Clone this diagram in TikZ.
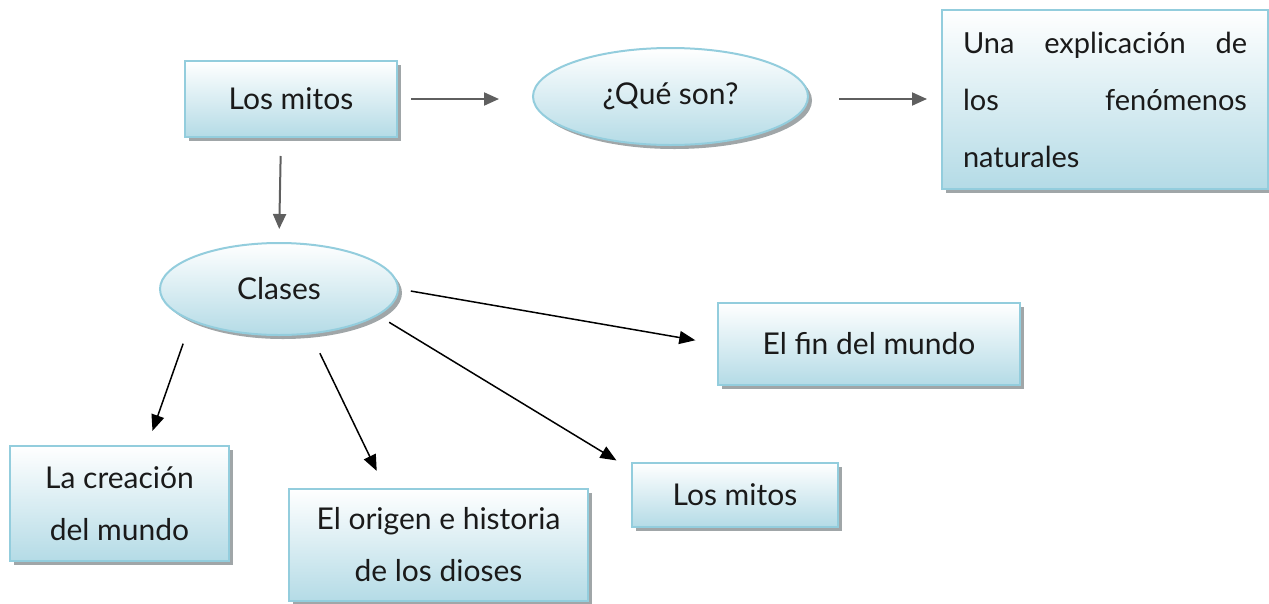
\documentclass[tikz,border=0pt]{standalone}
\usepackage{fontspec}
\setmainfont{Lato}
\usepackage{tikz}
\usetikzlibrary{arrows.meta,shadows,shapes.geometric}
\definecolor{mtink}{HTML}{1A1A1A}
\definecolor{mtborder}{HTML}{93CDDD}
\definecolor{mtfill}{HTML}{B4DBE6}
\definecolor{mtshadow}{HTML}{A0A6A8}
\definecolor{mtgray}{HTML}{5F5F5F}
\tikzset{
  mtbox/.style={
    draw=mtborder,
    line width=2pt,
    top color=white,
    bottom color=mtfill,
    drop shadow={shadow xshift=4pt, shadow yshift=-4pt, fill=mtshadow, opacity=1},
    align=center,
    inner sep=0pt,
    font=\fontsize{30}{52}\selectfont,
    text=mtink
  },
  mtoval/.style={mtbox, ellipse},
  mtgrayedge/.style={
    -{Triangle[length=15pt,width=13pt]},
    line width=2pt,
    color=mtgray
  },
  mtedge/.style={
    -{Triangle[length=16pt,width=13pt]},
    line width=1.5pt,
    color=black
  }
}
\begin{document}
\begin{tikzpicture}[x=1pt,y=-1pt]
  \useasboundingbox (0,0) rectangle (1269,603);

  \node[mtbox, minimum width=212pt, minimum height=76pt] (mitos) at (291,99) {Los mitos};
  \node[mtoval, minimum width=275pt, minimum height=97pt] (que) at (670.5,96.5) {¿Qué son?};
  \node[mtbox, minimum width=326pt, minimum height=179pt, text width=284pt,
    align=left, font=\fontsize{29}{57}\selectfont] (expl) at (1105,99.5) {%
    Una\hfill explicación\hfill de\\
    los\hfill fenómenos\\
    naturales%
  };

  \node[mtoval, minimum width=238pt, minimum height=92pt] (clases) at (279,289) {Clases};
  \node[mtbox, minimum width=302pt, minimum height=82pt] (fin) at (869,344) {El fin del mundo};
  \node[mtbox, minimum width=219pt, minimum height=115pt] (creacion) at (119.5,503.5) {%
    La creación\\del mundo};
  \node[mtbox, minimum width=299pt, minimum height=112pt] (origen) at (438.5,545) {%
    El origen e historia\\de los dioses};
  \node[mtbox, minimum width=206pt, minimum height=64pt] (mitosb) at (735,495) {Los mitos};

  \draw[mtgrayedge, shorten <=13pt, shorten >=33pt] (mitos.east) -- (mitos.east -| que.west);
  \draw[mtgrayedge, shorten <=30pt, shorten >=14pt] (que.east |- mitos.east) -- (mitos.east -| expl.west);
  \draw[mtgrayedge, shorten <=18pt, shorten >=13pt] ([xshift=-10pt]mitos.south) -- (clases.north);

  \draw[mtedge, shorten <=12pt, shorten >=22pt] (clases.east) -- (fin.west);
  \draw[mtedge, shorten <=24pt, shorten >=15pt] (clases.200) -- ([xshift=28pt]creacion.north);
  \draw[mtedge, shorten <=21pt, shorten >=19pt] (clases.305) -- ([xshift=-53.5pt]origen.north);
  \draw[mtedge, shorten <=13pt, shorten >=3pt] (clases.345) -- ([xshift=-12pt]mitosb.north west);
\end{tikzpicture}
\end{document}
